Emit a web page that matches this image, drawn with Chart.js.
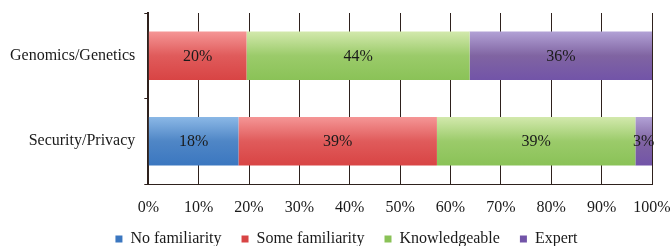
<!DOCTYPE html>
<html>
<head>
<meta charset="utf-8">
<script src="https://cdn.jsdelivr.net/npm/chart.js@4/dist/chart.umd.min.js"></script>
<style>
  html, body { margin: 0; padding: 0; background: #fff; }
  canvas { display: block; }
</style>
</head>
<body>
<canvas id="familiarityChart" width="670" height="246"></canvas>
<script>
// Categories and series (percent of respondents)
const categories = ['Genomics/Genetics', 'Security/Privacy'];
const seriesNames = ['No familiarity', 'Some familiarity', 'Knowledgeable', 'Expert'];
const noFamiliarity = [0, 17.9];
const someFamiliarity = [19.5, 39.4];
const knowledgeable = [44.3, 39.4];
const expert = [36.2, 3.3];
const xTicks = [0, 10, 20, 30, 40, 50, 60, 70, 80, 90, 100];

// colours: solid for legend, light/dark for the bar gradient
const solid = ['#4f86c6', '#e05b5b', '#9bcb6a', '#8064a2'];
const light = ['#8bb8e6', '#f59696', '#d3e9ad', '#b2a2d6'];
const dark = ['#3b77c0', '#d84444', '#8ac257', '#7254a8'];

const barPct = 0.57;
const fontFamily = '"Liberation Serif", "Times New Roman", serif';
const lineColor = '#2e211d';

Chart.defaults.font.family = fontFamily;
Chart.defaults.font.size = 16;
Chart.defaults.color = '#1a1a1a';

// vertical gradient per bar, based on the category scale
const barFill = (i) => (ctx) => {
    if (ctx.type !== 'data') return solid[i];
    const chart = ctx.chart;
    const yScale = chart.scales.y;
    if (!yScale || !chart.chartArea) return solid[i];
    const mid = yScale.getPixelForValue(ctx.dataIndex);
    const half = (yScale.height / categories.length) * barPct / 2;
    const g = chart.ctx.createLinearGradient(0, mid - half, 0, mid + half);
    g.addColorStop(0, light[i]);
    g.addColorStop(0.5, solid[i]);
    g.addColorStop(1, dark[i]);
    return g;
};

// draws the percentage text in the middle of each segment
const segmentLabels = {
    id: 'segmentLabels',
    afterDatasetsDraw(chart) {
        const ctx = chart.ctx;
        ctx.save();
        ctx.font = '16px ' + fontFamily;
        ctx.fillStyle = '#1a1a1a';
        ctx.textAlign = 'center';
        ctx.textBaseline = 'middle';
        chart.data.datasets.forEach((ds, di) => {
            const meta = chart.getDatasetMeta(di);
            meta.data.forEach((bar, i) => {
                const v = ds.data[i];
                if (!v) return;
                ctx.fillText(Math.round(v) + '%', (bar.x + bar.base) / 2, bar.y + 1);
            });
        });
        ctx.restore();
    }
};

// pull the legend up a little, closer to the tick labels, and a bit right
const legendNudge = {
    id: 'legendNudge',
    afterLayout(chart) {
        chart.legend.top -= 9;
        chart.legend.bottom -= 9;
        chart.legend.left += 11;
        chart.legend.right += 11;
    }
};

const seriesData = [noFamiliarity, someFamiliarity, knowledgeable, expert];

const chartConfig = {
    type: 'bar',
    data: {
        labels: categories,
        datasets: seriesNames.map((name, i) => ({
            label: name,
            data: seriesData[i],
            backgroundColor: barFill(i),
            borderWidth: 0,
            barPercentage: barPct,
            categoryPercentage: 1
        }))
    },
    options: {
        indexAxis: 'y',
        responsive: false,
        animation: false,
        layout: {
            padding: { left: 1, top: 13, right: 0, bottom: -20 }
        },
        plugins: {
            legend: {
                position: 'bottom',
                labels: {
                    boxWidth: 7,
                    boxHeight: 7,
                    padding: 20,
                    color: '#1a1a1a',
                    font: { family: fontFamily, size: 16 }
                }
            },
            tooltip: { enabled: false }
        },
        scales: {
            x: {
                stacked: true,
                min: 0,
                max: 100,
                afterBuildTicks: (scale) => {
                    scale.ticks = xTicks.map(v => ({ value: v }));
                },
                afterFit: (scale) => {
                    scale.height = 36;
                    scale.paddingRight = 18;
                },
                ticks: {
                    callback: (v) => v + '%',
                    color: '#1a1a1a',
                    padding: 14,
                    maxRotation: 0,
                    font: { family: fontFamily, size: 16 }
                },
                grid: {
                    color: lineColor,
                    lineWidth: 1,
                    drawTicks: false
                },
                border: { color: lineColor, width: 1 }
            },
            y: {
                stacked: true,
                afterFit: (scale) => {
                    scale.paddingTop = 0;
                    scale.paddingBottom = 0;
                },
                ticks: {
                    color: '#1a1a1a',
                    padding: 9,
                    font: { family: fontFamily, size: 16 }
                },
                grid: {
                    offset: true,
                    drawOnChartArea: false,
                    drawTicks: true,
                    tickLength: 4,
                    color: lineColor
                },
                border: { color: lineColor, width: 2 }
            }
        }
    },
    plugins: [segmentLabels, legendNudge]
};

const ctx = document.getElementById('familiarityChart').getContext('2d');
const familiarityChart = new Chart(ctx, chartConfig);
</script>
</body>
</html>
